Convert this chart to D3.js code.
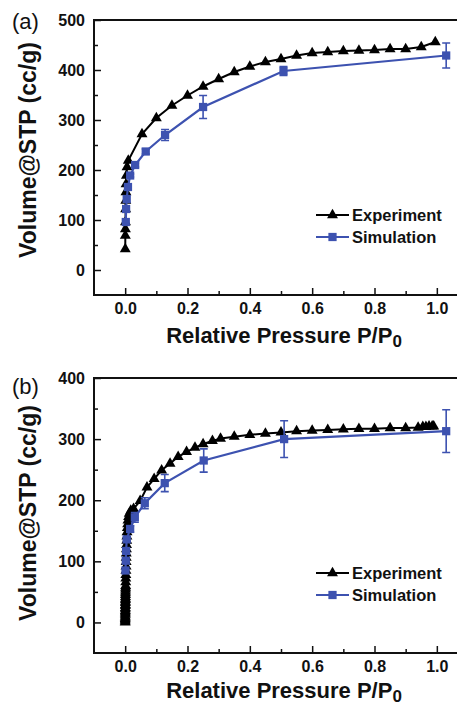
<!DOCTYPE html>
<html>
<head>
<meta charset="utf-8">
<script src="https://cdn.jsdelivr.net/npm/d3@7"></script>
<style>
  body { margin: 0; background: #fff; }
  svg { display: block; font-family: "Liberation Sans", Arial, sans-serif; }
</style>
</head>
<body>
<div id="chart"></div>
<script>
// ---- data ----
var xTicks = [0, 0.2, 0.4, 0.6, 0.8, 1.0]
var xMinor = [0.1, 0.3, 0.5, 0.7, 0.9]
var seriesNames = ["Experiment", "Simulation"]

// panel (a)
var expA_p = [0.0003, 0.0005, 0.0008, 0.001, 0.0015, 0.002, 0.0025, 0.003, 0.004, 0.006, 0.01, 0.054, 0.1, 0.15, 0.2, 0.25, 0.3, 0.35, 0.4, 0.45, 0.5, 0.55, 0.6, 0.65, 0.7, 0.75, 0.8, 0.85, 0.9, 0.95, 0.995]
var expA_v = [42, 69, 82, 96, 122, 139, 156, 172, 189, 206, 219, 272, 304, 329, 349, 367, 382, 396, 407, 416, 422, 429, 434, 436, 438, 439, 440, 442, 442, 446, 456]
var simA_p = [0.002, 0.003, 0.005, 0.009, 0.016, 0.032, 0.066, 0.128, 0.25, 0.508, 1.03]
var simA_v = [96, 122, 142, 166, 189, 210, 237, 270, 326, 398, 429]
var simA_err = [0, 0, 0, 0, 3, 4, 5, 11, 23, 9, 25]
var yTicksA = [0, 100, 200, 300, 400, 500]
var yMinorA = [50, 150, 250, 350, 450]

// panel (b)
var expB_p = [0.0001, 0.00015, 0.0002, 0.00025, 0.0003, 0.00035, 0.0004, 0.00045, 0.0005, 0.00055, 0.0006, 0.00065, 0.0007, 0.00075, 0.0008, 0.00085, 0.0009, 0.00095, 0.001, 0.00105, 0.0011, 0.0012, 0.0013, 0.0014, 0.0016, 0.0018, 0.002, 0.0022, 0.0025, 0.0028, 0.003, 0.0033, 0.0036, 0.004, 0.0045, 0.005, 0.0055, 0.006, 0.007, 0.008, 0.009, 0.011, 0.013,
  0.018, 0.027, 0.048, 0.07, 0.093, 0.117, 0.144, 0.17, 0.197, 0.224, 0.25, 0.28, 0.306, 0.35, 0.4, 0.45, 0.5, 0.55, 0.6, 0.65, 0.7, 0.75, 0.8, 0.85, 0.9, 0.94, 0.955, 0.965, 0.975, 0.985, 0.99]
var expB_v = [0, 2, 4, 6, 8, 10, 13, 15, 17, 19, 22, 24, 27, 29, 32, 34, 37, 39, 42, 45, 48, 51, 54, 57, 60, 66, 72, 78, 85, 92, 99, 106, 113, 120, 127, 134, 141, 148, 155, 161, 167, 173, 178, 183,
  186, 199, 221, 235, 249, 260, 271, 279, 286, 292, 297, 301, 304, 307, 309, 311, 313, 314, 315, 316, 317, 317, 318, 318, 319, 320, 320, 321, 321, 321, 322]
var simB_p = [0.001, 0.002, 0.003, 0.005, 0.016, 0.031, 0.063, 0.127, 0.252, 0.51, 1.03]
var simB_v = [85, 101, 117, 136, 153, 172, 195, 228, 265, 300, 313]
var simB_err = [0, 0, 0, 3, 5, 8, 9, 14, 19, 30, 35]
var yTicksB = [0, 100, 200, 300, 400]
var yMinorB = [50, 150, 250, 350]

var width = 457
var height = 705
var blue = "#3d52b0"

var svg = d3.select("#chart")
  .append("svg")
  .attr("width", width)
  .attr("height", height)

// shared x scale (both panels line up)
var xScale = d3.scaleLinear()
  .domain([-0.1, 1.1])
  .range([94, 468])

var tri = d3.symbol().type(d3.symbolTriangle).size(52)
var sq = d3.symbol().type(d3.symbolSquare).size(68)

function drawPanel(p) {
  var g = svg.append("g").attr("class", "panel")
  var yScale = d3.scaleLinear()
    .domain(p.yDomain)
    .range([p.bottom, p.top])

  // Y minor ticks
  g.append("g")
    .attr("transform", `translate(${xScale(-0.1)},0)`)
    .call(d3.axisLeft(yScale).tickValues(p.yMinor).tickSizeInner(-4).tickSizeOuter(0).tickFormat(""))
    .call(a => a.select(".domain").remove())
    .selectAll("line").attr("stroke", "#111").attr("stroke-width", 1.5)

  // Y axis
  g.append("g")
    .attr("transform", `translate(${xScale(-0.1)},0)`)
    .call(d3.axisLeft(yScale).tickValues(p.yTicks).tickSizeInner(-7).tickSizeOuter(0).tickPadding(9))
    .call(a => a.select(".domain").remove())
    .call(a => a.selectAll("line").attr("stroke", "#111").attr("stroke-width", 1.5))
    .selectAll("text")
    .style("font-size", "16px")
    .style("font-weight", "bold")
    .attr("fill", "#111")

  // X minor ticks
  g.append("g")
    .attr("transform", `translate(0,${p.bottom})`)
    .call(d3.axisBottom(xScale).tickValues(xMinor).tickSizeInner(-4).tickSizeOuter(0).tickFormat(""))
    .call(a => a.select(".domain").remove())
    .selectAll("line").attr("stroke", "#111").attr("stroke-width", 1.5)

  // X axis
  g.append("g")
    .attr("transform", `translate(0,${p.bottom})`)
    .call(d3.axisBottom(xScale).tickValues(xTicks).tickSizeInner(-7).tickSizeOuter(0).tickPadding(8).tickFormat(d3.format(".1f")))
    .call(a => a.select(".domain").remove())
    .call(a => a.selectAll("line").attr("stroke", "#111").attr("stroke-width", 1.5))
    .selectAll("text")
    .style("font-size", "16px")
    .style("font-weight", "bold")
    .attr("fill", "#111")

  // frame (right side runs off the picture)
  g.append("path")
    .attr("d", `M${xScale(1.1)},${p.top}H${xScale(-0.1)}V${p.bottom}H${xScale(1.1)}`)
    .attr("fill", "none")
    .attr("stroke", "#111")
    .attr("stroke-width", 2)

  // experiment line + triangles
  var expData = p.expP.map((d, i) => ({ x: d, y: p.expV[i] }))
  var line = d3.line().x(d => xScale(d.x)).y(d => yScale(d.y))
  g.append("path")
    .datum(expData)
    .attr("d", line)
    .attr("fill", "none")
    .attr("stroke", "#000")
    .attr("stroke-width", 2)
  g.selectAll(".exp")
    .data(expData)
    .enter()
    .append("path")
    .attr("class", "exp")
    .attr("d", tri)
    .attr("transform", d => `translate(${xScale(d.x)},${yScale(d.y)})`)
    .attr("fill", "#000")

  // simulation line, error bars, squares
  var simData = p.simP.map((d, i) => ({ x: d, y: p.simV[i], e: p.simE[i] }))
  g.append("path")
    .datum(simData)
    .attr("d", line)
    .attr("fill", "none")
    .attr("stroke", blue)
    .attr("stroke-width", 2.2)
  g.selectAll(".err")
    .data(simData.filter(d => d.e > 0))
    .enter()
    .append("path")
    .attr("class", "err")
    .attr("d", d => {
      var cx = xScale(d.x), y1 = yScale(d.y + d.e), y0 = yScale(d.y - d.e)
      return `M${cx - 4},${y1}H${cx + 4}M${cx},${y1}V${y0}M${cx - 4},${y0}H${cx + 4}`
    })
    .attr("fill", "none")
    .attr("stroke", blue)
    .attr("stroke-width", 1.6)
  g.selectAll(".sim")
    .data(simData)
    .enter()
    .append("path")
    .attr("class", "sim")
    .attr("d", sq)
    .attr("transform", d => `translate(${xScale(d.x)},${yScale(d.y)})`)
    .attr("fill", blue)

  // legend
  var lg = g.append("g").attr("class", "legend")
  seriesNames.forEach((name, i) => {
    var ly = p.legendY + i * 22
    var col = i === 0 ? "#000" : blue
    lg.append("line")
      .attr("x1", 316).attr("x2", 349)
      .attr("y1", ly).attr("y2", ly)
      .attr("stroke", col)
      .attr("stroke-width", 2.2)
    lg.append("path")
      .attr("d", i === 0 ? tri : sq)
      .attr("transform", `translate(332.5,${ly})`)
      .attr("fill", col)
    lg.append("text")
      .attr("x", 352)
      .attr("y", ly + 6)
      .style("font-size", "16.5px")
      .style("font-weight", "bold")
      .attr("fill", "#111")
      .text(name)
  })

  // panel label
  g.append("text")
    .attr("x", 12)
    .attr("y", p.labelY)
    .style("font-size", "22px")
    .attr("fill", "#111")
    .text(p.label)

  // Y title
  g.append("text")
    .attr("transform", `translate(36,${p.yTitleC}) rotate(-90)`)
    .attr("text-anchor", "middle")
    .style("font-size", "23px")
    .style("font-weight", "bold")
    .attr("fill", "#111")
    .text("Volume@STP (cc/g)")

  // X title
  var xt = g.append("text")
    .attr("x", 284)
    .attr("y", p.bottom + p.xTitleOff)
    .attr("text-anchor", "middle")
    .style("font-size", "22px")
    .style("font-weight", "bold")
    .attr("fill", "#111")
  xt.append("tspan").text("Relative Pressure P/P")
  xt.append("tspan").attr("dy", 4).style("font-size", "17px").text("0")
}

drawPanel({
  top: 20, bottom: 295, yDomain: [-50, 500],
  yTicks: yTicksA, yMinor: yMinorA,
  expP: expA_p, expV: expA_v,
  simP: simA_p, simV: simA_v, simE: simA_err,
  legendY: 215, label: "(a)", labelY: 29, yTitleC: 150, xTitleOff: 48
})

drawPanel({
  top: 378, bottom: 653, yDomain: [-50, 400],
  yTicks: yTicksB, yMinor: yMinorB,
  expP: expB_p, expV: expB_v,
  simP: simB_p, simV: simB_v, simE: simB_err,
  legendY: 573, label: "(b)", labelY: 394, yTitleC: 513, xTitleOff: 45
})
</script>
</body>
</html>
